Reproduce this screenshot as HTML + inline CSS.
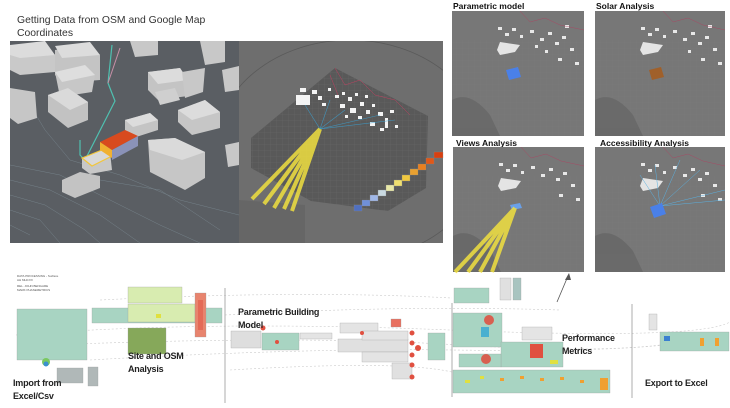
<!DOCTYPE html>
<html><head><meta charset="utf-8"><style>
html,body{margin:0;padding:0;background:#fff;}
body{width:730px;height:408px;overflow:hidden;position:relative;font-family:"Liberation Sans",sans-serif;}
.t{position:absolute;font-weight:bold;color:#222;font-size:9px;line-height:13px;letter-spacing:-0.2px;}
</style></head><body>
<svg width="730" height="408" viewBox="0 0 730 408" xmlns="http://www.w3.org/2000/svg" style="position:absolute;left:0;top:0">
<defs>
<pattern id="grid" width="6" height="6" patternUnits="userSpaceOnUse"><path d="M6 0H0V6" fill="none" stroke="#8a8a8a" stroke-width="0.35"/></pattern>
<clipPath id="rc"><rect x="239" y="41" width="204" height="202"/></clipPath>
</defs>
<text x="17" y="23" font-family="Liberation Sans" font-size="10.4" fill="#333">Getting Data from OSM and Google Map</text>
<text x="17" y="36" font-family="Liberation Sans" font-size="10.4" fill="#333">Coordinates</text>

<!-- left image -->
<rect x="10" y="41" width="229" height="202" fill="#5a5e63"/>
<g stroke="#7b8a92" stroke-width="0.5" fill="none" opacity="0.8">
<path d="M10 165 L60 175 L110 200 L160 225 L200 243"/>
<path d="M10 180 L50 190 L100 215 L140 243"/>
<path d="M10 195 L45 205 L85 230 L100 243"/>
<path d="M10 210 L40 220 L60 243"/>
<path d="M10 225 L30 235"/>
<path d="M30 105 L45 130 L70 160 L120 175 L180 200 L239 215"/>
<path d="M100 180 L160 190 L220 230"/>
</g>
<path d="M80 140 L80 155 L85 160 L115 101 L108 83 L112 45" stroke="#4fc0b0" stroke-width="1.2" fill="none"/>
<path d="M108 83 L120 48" stroke="#c890a8" stroke-width="1" fill="none"/>
<g>
<polygon points="10,50 45,45 55,55 55,72 20,75 10,70" fill="#c9c9c9"/><polygon points="10,45 45,41 55,55 20,58 10,55" fill="#dcdcdc"/>
<polygon points="55,50 90,45 100,55 100,80 62,83 55,75" fill="#c4c4c4"/><polygon points="55,46 90,42 100,55 62,58" fill="#dcdcdc"/>
<polygon points="55,72 85,65 95,75 92,92 60,97" fill="#c7c7c7"/><polygon points="55,72 85,65 95,75 62,82" fill="#dedede"/>
<polygon points="48,95 68,88 88,102 88,120 68,128 48,112" fill="#c2c2c2"/><polygon points="48,95 68,88 88,102 70,110" fill="#dadada"/>
<polygon points="10,88 35,92 37,118 18,124 10,118" fill="#c6c6c6"/>
<polygon points="125,120 150,113 158,120 158,130 133,138 125,130" fill="#c4c4c4"/><polygon points="125,120 150,113 158,120 133,127" fill="#dcdcdc"/>
<polygon points="148,140 175,138 205,152 205,178 185,190 150,172" fill="#c6c6c6"/><polygon points="148,140 175,138 205,152 182,160 150,150" fill="#dadada"/>
<polygon points="62,180 80,172 100,176 100,188 75,198 62,192" fill="#c3c3c3"/>
<polygon points="148,72 180,68 188,80 188,96 158,100 148,90" fill="#c4c4c4"/><polygon points="148,72 180,68 188,80 158,84" fill="#dcdcdc"/>
<polygon points="155,92 175,88 180,100 160,105" fill="#cfcfcf"/>
<polygon points="178,110 205,100 220,112 220,128 192,135 178,122" fill="#c6c6c6"/><polygon points="178,110 205,100 220,112 192,120" fill="#dcdcdc"/>
<polygon points="182,72 205,68 203,92 185,98" fill="#c8c8c8"/>
<polygon points="130,41 158,41 158,55 135,57" fill="#c8c8c8"/>
<polygon points="200,41 225,41 225,62 205,65" fill="#c8c8c8"/>
<polygon points="222,70 239,66 239,90 225,92" fill="#c8c8c8"/>
<polygon points="225,145 239,142 239,165 228,167" fill="#c8c8c8"/>
<polygon points="82,158 110,152 112,170 90,174 82,168" fill="#c8c8c8"/>
<polygon points="82,158 102,150 112,156 92,166" fill="#d8d8d8" stroke="#f2c63a" stroke-width="1.2"/>
<polygon points="100,142 125,130 138,136 112,150" fill="#d84a1e"/>
<polygon points="100,142 112,150 112,158 100,150" fill="#f0b030"/>
<polygon points="112,150 138,136 138,146 112,160" fill="#8a92b8"/>
</g>

<!-- right image -->
<g clip-path="url(#rc)">
<rect x="239" y="41" width="204" height="202" fill="#6e6e6e"/>
<ellipse cx="350" cy="150" rx="135" ry="110" fill="none" stroke="#5a5a5a" stroke-width="0.8"/>
<polygon points="251,138 335,68 428,116 426,188 388,211 311,201 251,168" fill="#595959"/>
<polygon points="251,138 335,68 428,116 426,188 388,211 311,201 251,168" fill="url(#grid)" opacity="0.5"/>
<polygon points="239,200 305,205 305,243 239,243" fill="#666"/>
</g>
<g fill="#f4f4f4">
<rect x="296" y="95" width="14" height="10"/><rect x="300" y="88" width="6" height="4"/><rect x="312" y="90" width="5" height="4"/><rect x="318" y="96" width="4" height="4"/>
<rect x="335" y="95" width="4" height="3"/><rect x="342" y="92" width="3" height="3"/><rect x="348" y="97" width="4" height="4"/><rect x="355" y="93" width="3" height="3"/>
<rect x="340" y="104" width="5" height="4"/><rect x="350" y="108" width="6" height="5"/><rect x="360" y="102" width="4" height="4"/><rect x="366" y="110" width="4" height="4"/>
<rect x="372" y="104" width="3" height="3"/><rect x="378" y="112" width="5" height="4"/><rect x="385" y="118" width="3" height="10"/><rect x="390" y="110" width="4" height="3"/>
<rect x="358" y="116" width="4" height="3"/><rect x="370" y="122" width="5" height="4"/><rect x="380" y="128" width="4" height="3"/><rect x="322" y="103" width="4" height="3"/>
<rect x="328" y="88" width="3" height="3"/><rect x="365" y="95" width="3" height="3"/><rect x="395" y="125" width="3" height="3"/><rect x="345" y="115" width="3" height="3"/>
</g>
<g stroke="#c04060" stroke-width="0.5" fill="none"><path d="M335 68 L345 85 L360 80 L375 95 L395 100 L410 115"/><path d="M330 75 L338 95"/></g>
<g stroke="#3ba0d0" stroke-width="0.6" opacity="0.8"><path d="M320 129 L305 105 M320 129 L330 100 M320 129 L345 110 M320 129 L380 115 M320 129 L395 120"/></g>
<g stroke="#f0e040" stroke-width="4" opacity="0.85"><path d="M320 129 L252 199 M320 129 L264 204 M320 129 L274 208 M320 129 L284 209 M320 129 L292 211"/></g>
<g stroke="#888" stroke-width="0.3">
<rect x="354" y="205" width="8" height="6" fill="#5070c0"/><rect x="362" y="200" width="8" height="6" fill="#7090d8"/><rect x="370" y="195" width="8" height="6" fill="#a0b8e8"/><rect x="378" y="190" width="8" height="6" fill="#c8d8e0"/><rect x="386" y="185" width="8" height="6" fill="#e8e8a8"/><rect x="394" y="180" width="8" height="6" fill="#f0e070"/><rect x="402" y="175" width="8" height="6" fill="#f0c840"/><rect x="410" y="169" width="8" height="6" fill="#e8a030"/><rect x="418" y="164" width="8" height="6" fill="#e88020"/><rect x="426" y="158" width="8" height="6" fill="#e05818"/><rect x="434" y="152" width="9" height="6" fill="#d84010"/>
</g>

<!-- thumbnails -->
<g font-family="Liberation Sans" font-size="8.5" font-weight="bold" fill="#111">
<text x="453" y="9">Parametric model</text><text x="596" y="9">Solar Analysis</text>
<text x="456" y="146">Views Analysis</text><text x="600" y="146">Accessibility Analysis</text>
</g>
<g fill="#777">
<rect x="452" y="11" width="132" height="125"/>
<rect x="595" y="11" width="130" height="125"/>
<rect x="453" y="147" width="131" height="125"/>
<rect x="595" y="147" width="130" height="125"/>
</g>
<g fill="url(#grid)" opacity="0.3">
<rect x="452" y="40" width="132" height="96"/><rect x="595" y="40" width="130" height="96"/><rect x="453" y="176" width="131" height="96"/><rect x="595" y="176" width="130" height="96"/>
</g>
<g fill="#666" opacity="0.8">
<path d="M452 100 Q470 90 490 115 L500 136 L452 136Z"/><path d="M595 100 Q613 90 633 115 L643 136 L595 136Z"/>
<path d="M453 236 Q471 226 491 251 L501 272 L453 272Z"/><path d="M595 236 Q613 226 633 251 L643 272 L595 272Z"/>
</g>
<g fill="#e4e4e4">
<polygon points="500,55 515,52 520,45 500,42 497,50"/><polygon points="643,55 658,52 663,45 643,42 640,50"/>
<polygon points="501,191 516,188 521,181 501,178 498,186"/><polygon points="643,191 658,188 663,181 643,178 640,186"/>
</g>
<g fill="#e8e8e8">
<rect x="498" y="27" width="4" height="3"/><rect x="505" y="33" width="4" height="3"/><rect x="512" y="28" width="4" height="3"/><rect x="520" y="35" width="3" height="3"/><rect x="530" y="30" width="4" height="3"/><rect x="540" y="38" width="4" height="3"/><rect x="548" y="32" width="4" height="3"/><rect x="555" y="42" width="4" height="3"/><rect x="562" y="36" width="4" height="3"/><rect x="570" y="48" width="4" height="3"/><rect x="545" y="50" width="3" height="3"/><rect x="558" y="58" width="4" height="3"/><rect x="575" y="62" width="4" height="3"/><rect x="565" y="25" width="4" height="3"/><rect x="535" y="45" width="3" height="3"/>
<rect x="641" y="27" width="4" height="3"/><rect x="648" y="33" width="4" height="3"/><rect x="655" y="28" width="4" height="3"/><rect x="663" y="35" width="3" height="3"/><rect x="673" y="30" width="4" height="3"/><rect x="683" y="38" width="4" height="3"/><rect x="691" y="32" width="4" height="3"/><rect x="698" y="42" width="4" height="3"/><rect x="705" y="36" width="4" height="3"/><rect x="713" y="48" width="4" height="3"/><rect x="688" y="50" width="3" height="3"/><rect x="701" y="58" width="4" height="3"/><rect x="718" y="62" width="4" height="3"/><rect x="708" y="25" width="4" height="3"/>
<rect x="499" y="163" width="4" height="3"/><rect x="506" y="169" width="4" height="3"/><rect x="513" y="164" width="4" height="3"/><rect x="521" y="171" width="3" height="3"/><rect x="531" y="166" width="4" height="3"/><rect x="541" y="174" width="4" height="3"/><rect x="549" y="168" width="4" height="3"/><rect x="556" y="178" width="4" height="3"/><rect x="563" y="172" width="4" height="3"/><rect x="571" y="184" width="4" height="3"/><rect x="559" y="194" width="4" height="3"/><rect x="576" y="198" width="4" height="3"/>
<rect x="641" y="163" width="4" height="3"/><rect x="648" y="169" width="4" height="3"/><rect x="655" y="164" width="4" height="3"/><rect x="663" y="171" width="3" height="3"/><rect x="673" y="166" width="4" height="3"/><rect x="683" y="174" width="4" height="3"/><rect x="691" y="168" width="4" height="3"/><rect x="698" y="178" width="4" height="3"/><rect x="705" y="172" width="4" height="3"/><rect x="713" y="184" width="4" height="3"/><rect x="701" y="194" width="4" height="3"/><rect x="718" y="198" width="4" height="3"/>
</g>
<g stroke="#b04060" stroke-width="0.4" fill="none">
<path d="M520 11 L530 22 L545 18 L560 25 L584 30"/><path d="M663 11 L673 22 L688 18 L703 25 L725 30"/><path d="M521 147 L531 158 L546 154 L561 161 L584 166"/><path d="M663 147 L673 158 L688 154 L703 161 L725 166"/>
</g>
<polygon points="506,70 518,67 521,77 509,80" fill="#4a80e8"/>
<polygon points="649,70 661,67 664,77 652,80" fill="#a0602a"/>
<polygon points="510,205 520,203 522,208 512,210" fill="#6aa0e8"/>
<g stroke="#f0e040" stroke-width="4" opacity="0.85"><path d="M515 208 L455 272 M515 208 L468 272 M515 208 L480 272 M515 208 L492 272"/></g>
<g stroke="#5ab0e0" stroke-width="0.5"><path d="M660 206 L640 175 M660 206 L655 165 M660 206 L680 160 M660 206 L725 190 M660 206 L725 200 M660 206 L700 170"/></g>
<polygon points="650,207 662,203 666,214 654,218" fill="#4a80e8"/>

<!-- bottom flow -->
<g stroke="#ccc" stroke-width="0.6" stroke-dasharray="2 2" fill="none">
<path d="M16 335 Q200 320 450 330 T730 322"/><path d="M50 345 Q300 335 460 345 T700 340"/><path d="M90 360 Q300 348 452 350 T660 345"/>
<path d="M225 315 Q400 305 560 310"/><path d="M100 300 Q300 290 452 298"/><path d="M230 370 Q400 360 452 372"/>
</g>
<g stroke="#999" stroke-width="0.8" fill="none">
<line x1="225" y1="288" x2="225" y2="403"/><line x1="452" y1="303" x2="452" y2="397"/><line x1="632" y1="304" x2="632" y2="398"/>
<line x1="557" y1="302" x2="568" y2="276" stroke="#555"/>
</g>
<polygon points="569,273 565,280 571,280" fill="#555"/>
<g font-family="Liberation Sans" font-size="3" fill="#555"><text x="17" y="277">DATA PROCESSING - Surface</text><text x="17" y="281">AH MHCXX</text><text x="17" y="287">REL. JOHN BENGARE</text><text x="17" y="291">MARK PHASEMETRICS</text></g>
<g stroke="#9a9a9a" stroke-width="0.3">
<rect x="17" y="309" width="70" height="51" fill="#a8d4c2"/>
<rect x="92" y="308" width="130" height="15" fill="#a8d4c2"/>
<rect x="128" y="287" width="54" height="16" fill="#d8ecb0"/>
<rect x="128" y="304" width="67" height="18" fill="#d8ecb0"/>
<rect x="128" y="328" width="38" height="26" fill="#86a85a"/>
<rect x="195" y="293" width="11" height="44" fill="#e8846e"/>
<rect x="57" y="368" width="26" height="15" fill="#b0b8b8"/>
<rect x="88" y="367" width="10" height="19" fill="#b0b8b8"/>
<rect x="231" y="331" width="30" height="17" fill="#dedede"/>
<rect x="262" y="333" width="37" height="17" fill="#a8d4c2"/>
<rect x="300" y="333" width="32" height="6" fill="#e4e4e4"/>
<rect x="340" y="323" width="38" height="10" fill="#e4e4e4"/>
<rect x="338" y="339" width="70" height="13" fill="#e0e0e0"/>
<rect x="362" y="331" width="46" height="9" fill="#e4e4e4"/>
<rect x="362" y="352" width="46" height="10" fill="#e4e4e4"/>
<rect x="392" y="363" width="20" height="16" fill="#e0e0e0"/>
<rect x="391" y="319" width="10" height="8" fill="#e87060"/>
<rect x="428" y="333" width="17" height="27" fill="#a8d4c2"/>
<rect x="454" y="288" width="35" height="15" fill="#a8d4c2"/>
<rect x="500" y="278" width="11" height="22" fill="#e0e0e0"/>
<rect x="513" y="278" width="8" height="22" fill="#a8c4c0"/>
<rect x="453" y="313" width="49" height="34" fill="#a8d4c2"/>
<rect x="501" y="342" width="62" height="25" fill="#a8d4c2"/>
<rect x="459" y="354" width="42" height="13" fill="#a8d4c2"/>
<rect x="453" y="370" width="157" height="23" fill="#a8d4c2"/>
<rect x="522" y="327" width="30" height="13" fill="#e4e4e4"/>
<rect x="660" y="332" width="69" height="19" fill="#a8d4c2"/>
<rect x="649" y="314" width="8" height="16" fill="#e4e4e4"/>
</g>
<g fill="#e05040"><rect x="530" y="344" width="13" height="14"/><rect x="198" y="300" width="5" height="30" opacity="0.5"/>
<circle cx="412" cy="333" r="2.5"/><circle cx="412" cy="343" r="2.5"/><circle cx="418" cy="348" r="3"/><circle cx="412" cy="355" r="2.5"/><circle cx="412" cy="365" r="2.5"/><circle cx="412" cy="377" r="2.5"/><circle cx="362" cy="333" r="2"/><circle cx="263" cy="328" r="2.5"/><circle cx="277" cy="342" r="2"/>
<circle cx="489" cy="320" r="5" fill="#d86050"/><circle cx="486" cy="359" r="5" fill="#d86050"/>
</g>
<rect x="481" y="327" width="8" height="10" fill="#4ab0d0"/>
<g fill="#f0a030"><rect x="500" y="378" width="4" height="3"/><rect x="520" y="376" width="4" height="3"/><rect x="540" y="378" width="4" height="3"/><rect x="560" y="377" width="4" height="3"/><rect x="580" y="380" width="4" height="3"/><rect x="600" y="378" width="8" height="12"/><rect x="700" y="338" width="4" height="8"/><rect x="715" y="338" width="4" height="8"/></g>
<g fill="#e0e040"><rect x="465" y="380" width="5" height="3"/><rect x="550" y="360" width="8" height="4"/><rect x="480" y="376" width="4" height="3"/><rect x="156" y="314" width="5" height="4"/></g>
<rect x="664" y="336" width="6" height="5" fill="#3a80d0"/>
<circle cx="46" cy="362" r="4" fill="#7ac860"/><circle cx="46" cy="364" r="2.5" fill="#3a90d0"/>
</svg>
<div class="t" style="left:13px;top:377px">Import from<br>Excel/Csv</div>
<div class="t" style="left:128px;top:350px">Site and OSM<br>Analysis</div>
<div class="t" style="left:238px;top:306px">Parametric Building<br>Model</div>
<div class="t" style="left:562px;top:332px">Performance<br>Metrics</div>
<div class="t" style="left:645px;top:377px">Export to Excel</div>
</body></html>
